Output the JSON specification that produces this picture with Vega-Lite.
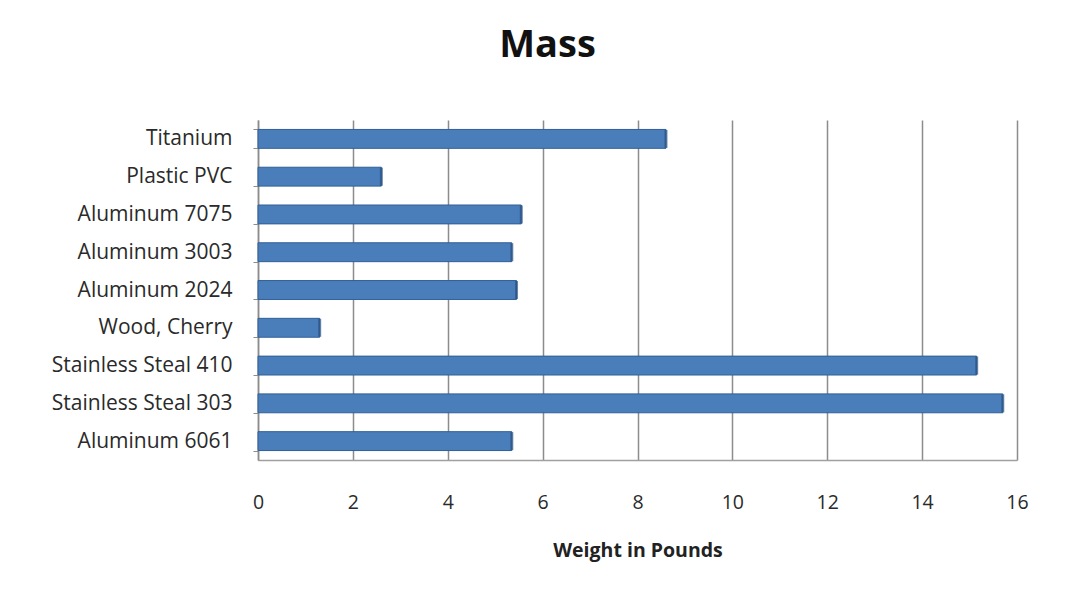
{
  "$schema": "https://vega.github.io/schema/vega-lite/v6.json",
  "autosize": {"type": "none"},
  "width": 759,
  "height": 340,
  "padding": {"left": 258, "top": 120, "right": 64, "bottom": 134},
  "background": "white",
  "title": {
    "text": "Mass",
    "font": "Open Sans",
    "fontSize": 38,
    "fontWeight": "bold",
    "color": "#111111",
    "anchor": "middle",
    "dx": -90,
    "offset": 44
  },
  "data": {
    "values": [
      {"material": "Titanium", "weight": 8.6},
      {"material": "Plastic PVC", "weight": 2.6},
      {"material": "Aluminum 7075", "weight": 5.55},
      {"material": "Aluminum 3003", "weight": 5.35},
      {"material": "Aluminum 2024", "weight": 5.45},
      {"material": "Wood, Cherry", "weight": 1.3},
      {"material": "Stainless Steal 410", "weight": 15.15},
      {"material": "Stainless Steal 303", "weight": 15.7},
      {"material": "Aluminum 6061", "weight": 5.35}
    ]
  },
  "encoding": {
    "y": {
      "field": "material",
      "type": "nominal",
      "sort": null,
      "scale": {"paddingInner": 0.5, "paddingOuter": 0.25},
      "axis": {
        "title": null,
        "labelFont": "Open Sans",
        "labelFontSize": 21,
        "labelLimit": 300,
        "labelColor": "#2a2a2a",
        "labelPadding": 21,
        "domainColor": "#8c8c8c",
        "domainWidth": 1.5,
        "tickColor": "#8c8c8c",
        "tickSize": 5,
        "tickBand": "extent",
        "grid": false
      }
    }
  },
  "layer": [
    {
      "mark": {"type": "bar", "color": "#4A7EBB", "stroke": "#2F5F96", "strokeWidth": 1},
      "encoding": {
        "x": {
          "field": "weight",
          "type": "quantitative",
          "scale": {"domain": [0, 16], "nice": false},
          "axis": {
            "title": "Weight in Pounds",
            "titleFont": "Open Sans",
            "titleFontSize": 19.5,
            "titleFontWeight": "bold",
            "titleColor": "#222222",
            "titlePadding": 30,
            "values": [0, 2, 4, 6, 8, 10, 12, 14, 16],
            "format": "d",
            "labelFlush": false,
            "labelFont": "Open Sans",
            "labelFontSize": 19.5,
            "labelColor": "#2a2a2a",
            "labelPadding": 33,
            "tickSize": 0,
            "domainColor": "#a0a0a0",
            "domainWidth": 1.5,
            "grid": true,
            "gridColor": "#8c8c8c",
            "gridWidth": 1.5
          }
        }
      }
    },
    {
      "mark": {"type": "tick", "orient": "vertical", "color": "#2B5285", "thickness": 3, "size": 18},
      "encoding": {
        "x": {"field": "weight", "type": "quantitative"}
      }
    }
  ],
  "config": {
    "view": {"stroke": null}
  }
}
